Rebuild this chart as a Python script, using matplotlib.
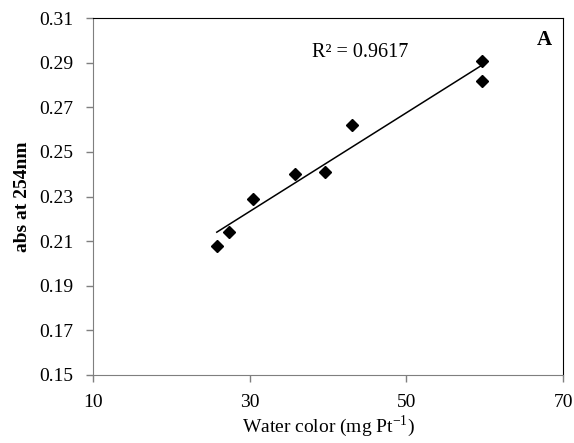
import numpy as np
import matplotlib
matplotlib.use("Agg")
import matplotlib.pyplot as plt

# values
water_color = [25.8, 27.4, 30.4, 35.8, 39.6, 43.1, 59.7, 59.7]
absorbance = [0.208, 0.214, 0.229, 0.240, 0.241, 0.262, 0.291, 0.282]
x_ticks = [10, 30, 50, 70]
y_ticks = [0.15, 0.17, 0.19, 0.21, 0.23, 0.25, 0.27, 0.29, 0.31]
r2_text = "R\u00b2 = 0.9617"

plt.rcParams['font.family'] = ['Liberation Serif', 'DejaVu Serif']
plt.rcParams['mathtext.fontset'] = 'custom'
plt.rcParams['mathtext.rm'] = 'Liberation Serif'

fig = plt.figure(figsize=(5.74, 4.43), dpi=100)
ax = fig.add_axes([0.162, 0.1535, 0.819, 0.8055])

# linear trendline (Excel style, spans data range)
slope, intercept = np.polyfit(water_color, absorbance, 1)
xl = np.array([min(water_color), max(water_color)])
ax.plot(xl, slope * xl + intercept, color='black', lw=1.1, zorder=2)

ax.plot(water_color, absorbance, linestyle='none', marker='D', markersize=6.5,
        color='black', zorder=3)

ax.set_xlim(10, 70)
ax.set_ylim(0.15, 0.31)
ax.set_xticks(x_ticks)
ax.set_yticks(y_ticks)
ax.set_yticklabels([f"{v:.2f}" for v in y_ticks])
ax.tick_params(direction='out', length=5, width=1, colors='#7f7f7f',
               labelcolor='black', labelsize=14)
ax.tick_params(axis='y', pad=9)
ax.tick_params(axis='x', pad=9)

for side in ['left', 'bottom']:
    ax.spines[side].set_color('#7f7f7f')
for side in ['top', 'right']:
    ax.spines[side].set_color('black')

ax.set_xlabel(r'Water color (mg Pt$^{\mathregular{-1}}$)', fontsize=14, labelpad=1)
ax.set_ylabel('abs at 254nm', fontsize=14, fontweight='bold', labelpad=6)

ax.text(38.0, 0.2948, r2_text, fontsize=14.5, va='center', ha='left')
ax.text(68.6, 0.300, 'A', fontsize=15, fontweight='bold', va='center', ha='right')

fig.savefig('out.png', dpi=100)
